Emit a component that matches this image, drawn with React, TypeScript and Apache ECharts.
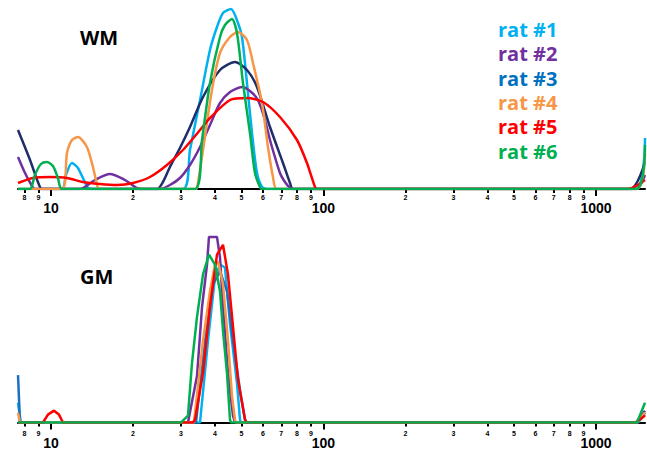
import React, { useEffect, useRef } from "react";
import * as echarts from "echarts";

const ratNames = ["rat #1", "rat #2", "rat #3", "rat #4", "rat #5", "rat #6"];
const legendColors = ["#00B0F0", "#7030A0", "#0070C0", "#F79646", "#FF0000", "#00B050"];
const wmLineColors = ["#00B0F0", "#7030A0", "#1F2D6B", "#F79646", "#FF0000", "#00B050"];
const gmLineColors = ["#00B0F0", "#7030A0", "#1B6EC2", "#F79646", "#FF0000", "#00B050"];
const panelLabels = ["WM", "GM"];
const minorTickValues = [8, 9, 20, 30, 40, 50, 60, 70, 80, 90, 200, 300, 400, 500, 600, 700, 800, 900];
const majorTickValues = [10, 100, 1000];
const xMin = 7.57;
const xMax = 1513;

// WM panel: [size, relative amount]
const wmRat1 = [[7.57, 0], [10.97, 0], [11.35, 14], [11.94, 26], [12.56, 21], [13.21, 9], [13.9, 0], [30.5, 0], [32.37, 39], [35.24, 89], [38.33, 139], [40.67, 162], [42.79, 176], [45.78, 180], [48.57, 166], [50.24, 152], [52.4, 106], [54.66, 56], [57.02, 16], [59.48, 2], [62.05, 0], [1390, 0], [1513, 51]];
const wmRat2 = [[7.57, 32], [8.0, 17], [8.4, 6], [8.73, 0], [12.78, 0], [14.5, 9], [16.46, 15], [18.69, 9], [21.21, 0], [25.12, 0], [27.33, 4], [29.74, 11], [32.37, 24], [35.24, 42], [38.33, 64], [41.72, 86], [45.39, 97], [50.24, 102], [53.74, 98], [57.51, 89], [61.0, 69], [63.64, 49], [69.25, 16], [72.24, 7], [75.36, 1], [77.29, 0], [1402, 0], [1513, 14]];
const wmRat3 = [[7.57, 59], [8.38, 29], [8.96, 7], [9.27, 0], [24.49, 0], [25.76, 7], [27.33, 22], [29.74, 41], [32.37, 62], [36.14, 92], [41.72, 119], [47.35, 127], [52.4, 119], [57.02, 102], [63.64, 62], [71.03, 26], [75.36, 6], [77.29, 0], [1333, 0], [1513, 27]];
const wmRat4 = [[7.57, 0], [10.97, 0], [11.45, 36], [11.94, 49], [12.56, 52], [13.55, 42], [14.26, 22], [14.87, 1], [15.13, 0], [33.77, 0], [34.35, 1], [36.14, 39], [38.98, 99], [41.72, 136], [45.39, 152], [48.57, 157], [52.4, 149], [55.12, 126], [59.48, 86], [62.57, 42], [65.28, 12], [67.52, 0], [1402, 0], [1513, 36]];
const wmRat5 = [[7.57, 6], [8.59, 11], [9.92, 12], [11.45, 11], [13.1, 7], [15.13, 5], [17.47, 4], [20.0, 6], [23.08, 12], [26.65, 24], [30.5, 39], [35.24, 59], [38.33, 71], [45.39, 89], [52.4, 91], [59.98, 87], [69.25, 72], [79.95, 49], [86.97, 26], [93.07, 2], [94.65, 0], [1311, 0], [1513, 9]];
const wmRat6 = [[7.57, 0], [8.38, 0], [8.73, 14], [9.19, 25], [9.67, 27], [10.17, 23], [10.61, 11], [10.97, 0], [33.77, 0], [35.84, 49], [38.33, 106], [41.72, 152], [43.51, 164], [46.16, 170], [48.16, 156], [50.66, 106], [53.74, 56], [56.06, 16], [58.48, 2], [59.48, 0], [1402, 0], [1513, 44]];

// GM panel
const gmRat1 = [[7.57, 20], [7.75, 0], [35.24, 0], [37.69, 83], [39.98, 147], [41.72, 160], [43.51, 157], [45.39, 100], [48.16, 40], [49.39, 3], [49.81, 0], [1426, 0], [1513, 8]];
const gmRat2 = [[7.57, 0], [31.83, 0], [34.35, 47], [35.84, 117], [37.38, 160], [38.01, 188], [40.67, 188], [41.72, 167], [42.79, 117], [44.63, 50], [46.56, 7], [47.35, 0], [1402, 0], [1513, 12]];
const gmRat3 = [[7.57, 48], [7.7, 0], [34.05, 0], [37.38, 100], [39.31, 140], [41.72, 153], [44.26, 133], [46.56, 83], [49.39, 33], [51.52, 3], [52.4, 0], [1414, 0], [1513, 10]];
const gmRat4 = [[7.57, 10], [7.7, 0], [33.48, 0], [36.14, 83], [38.33, 133], [39.98, 160], [41.02, 163], [42.79, 140], [44.63, 83], [46.16, 27], [47.35, 3], [47.75, 0], [1414, 0], [1513, 10]];
const gmRat5 = [[7.57, 0], [9.35, 0], [9.75, 8], [10.26, 12], [10.7, 8], [11.07, 0], [33.2, 0], [33.77, 3], [36.14, 50], [38.33, 117], [40.67, 170], [42.79, 180], [44.63, 150], [46.56, 97], [48.57, 43], [51.52, 3], [51.96, 0], [1402, 0], [1513, 7]];
const gmRat6 = [[7.57, 0], [29.99, 0], [30.5, 2], [31.83, 7], [32.92, 60], [34.35, 107], [36.14, 150], [38.01, 170], [39.98, 160], [41.72, 133], [42.79, 93], [44.26, 50], [45.39, 3], [45.78, 0], [1414, 0], [1513, 20]];

const wmData = [wmRat1, wmRat2, wmRat3, wmRat4, wmRat5, wmRat6];
const gmData = [gmRat1, gmRat2, gmRat3, gmRat4, gmRat5, gmRat6];

const digitLabel = (v: number) => {
  const p = Math.pow(10, Math.floor(Math.log10(v) + 1e-9));
  return String(Math.round(v / p));
};

function minorAxis(gridIndex: number, margin: number) {
  return {
    type: "log",
    logBase: 10,
    gridIndex,
    min: xMin,
    max: xMax,
    position: "bottom",
    axisLine: { show: true, onZero: false, lineStyle: { color: "#000", width: 2 } },
    axisTick: { show: true, customValues: minorTickValues, length: 4, lineStyle: { color: "#000", width: 2 } },
    axisLabel: {
      show: true,
      customValues: minorTickValues,
      margin,
      fontSize: 7,
      lineHeight: 7,
      fontWeight: "bold",
      color: "#000",
      fontFamily: "Liberation Sans",
      formatter: (v: number) => digitLabel(v),
    },
    splitLine: { show: false },
    minorTick: { show: false },
    minorSplitLine: { show: false },
  };
}

function majorAxis(gridIndex: number, margin: number) {
  return {
    type: "log",
    logBase: 10,
    gridIndex,
    min: xMin,
    max: xMax,
    position: "bottom",
    axisLine: { show: false, onZero: false },
    axisTick: { show: true, customValues: majorTickValues, length: 7, lineStyle: { color: "#000", width: 2 } },
    axisLabel: {
      show: true,
      customValues: majorTickValues,
      margin,
      fontSize: 14,
      lineHeight: 11,
      fontWeight: "bold",
      color: "#000",
      fontFamily: "Liberation Sans",
      formatter: (v: number) => String(Math.round(v)),
    },
    splitLine: { show: false },
    minorTick: { show: false },
    minorSplitLine: { show: false },
  };
}

export default function App() {
  const ref = useRef<HTMLDivElement>(null);
  useEffect(() => {
    document.body.style.margin = "0";
    if (!ref.current) return;
    const chart = echarts.init(ref.current, undefined, { renderer: "svg" });
    const series: any[] = [];
    ratNames.forEach((name, i) => {
      series.push({
        type: "line",
        name,
        xAxisIndex: 0,
        yAxisIndex: 0,
        data: wmData[i],
        showSymbol: false,
        smooth: 0.25,
        lineStyle: { width: 2.5, color: wmLineColors[i] },
        itemStyle: { color: legendColors[i] },
      });
    });
    ratNames.forEach((name, i) => {
      series.push({
        type: "line",
        name,
        xAxisIndex: 2,
        yAxisIndex: 1,
        data: gmData[i],
        showSymbol: false,
        smooth: false,
        lineStyle: { width: 2.5, color: gmLineColors[i] },
        itemStyle: { color: legendColors[i] },
      });
    });
    chart.setOption({
      animation: false,
      backgroundColor: "#fff",
      grid: [
        { left: 18, right: 2, top: 5, height: 184 },
        { left: 18, right: 2, top: 229, height: 196 },
      ],
      xAxis: [minorAxis(0, 5), majorAxis(0, 13), minorAxis(1, 7), majorAxis(1, 15)],
      yAxis: [
        { type: "value", gridIndex: 0, min: 0, max: 184, show: false },
        { type: "value", gridIndex: 1, min: 0, max: 196, show: false },
      ],
      legend: {
        orient: "vertical",
        left: 488,
        top: 12,
        itemGap: 0,
        itemWidth: 0,
        itemHeight: 10,
        icon: "none",
        selectedMode: false,
        data: ratNames.map((n, i) => ({ name: n, textStyle: { color: legendColors[i] } })),
        textStyle: { fontSize: 20, fontWeight: "bold", fontFamily: "Open Sans", lineHeight: 24.4 },
      },
      graphic: [
        { type: "text", left: 80, top: 27, style: { text: panelLabels[0], fontSize: 20, fontWeight: "bold", fontFamily: "Open Sans", fill: "#000" } },
        { type: "text", left: 80, top: 266, style: { text: panelLabels[1], fontSize: 20, fontWeight: "bold", fontFamily: "Open Sans", fill: "#000" } },
      ],
      series,
    });
    return () => chart.dispose();
  }, []);
  return <div ref={ref} style={{ width: 647, height: 450 }} />;
}
